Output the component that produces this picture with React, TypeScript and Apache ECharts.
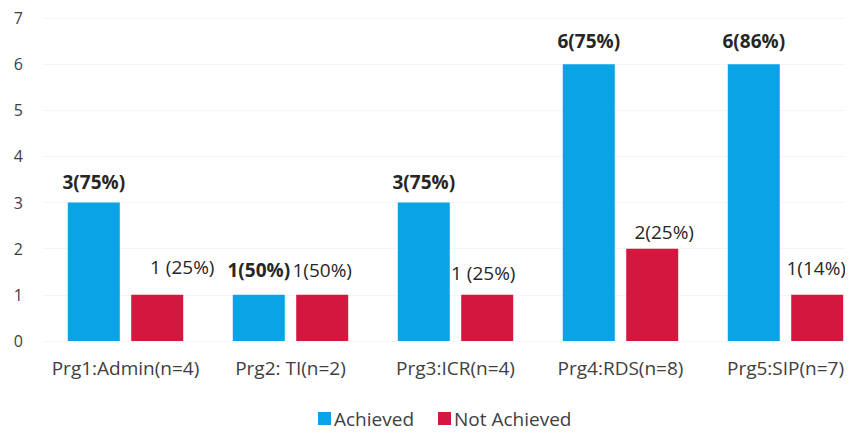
import React, { useEffect, useRef } from "react";
import * as echarts from "echarts";

const categories = ["Prg1:Admin(n=4)", "Prg2: TI(n=2)", "Prg3:ICR(n=4)", "Prg4:RDS(n=8)", "Prg5:SIP(n=7)"];
const achieved = [3, 1, 3, 6, 6];
const notAchieved = [1, 1, 1, 2, 1];
const achievedLabels = ["3(75%)", "1(50%)", "3(75%)", "6(75%)", "6(86%)"];
const notAchievedLabels = ["1 (25%)", "1(50%)", "1 (25%)", "2(25%)", "1(14%)"];
const yTicks = [0, 1, 2, 3, 4, 5, 6, 7];

const achievedLabelOffsets = [[0, 0], [0, -4], [0, 0], [0, -3], [0, -3]];
const notAchievedLabelOffsets = [[25, -7], [0, -4], [-4, -1], [12, 4], [-1, -6]];

const FONT = "'Open Sans', 'Noto Sans', sans-serif";

export default function App() {
  const ref = useRef<HTMLDivElement>(null);
  useEffect(() => {
    if (!ref.current) return;
    const chart = echarts.init(ref.current, undefined, { renderer: "svg" });
    chart.setOption({
      animation: false,
      textStyle: { fontFamily: FONT },
      legend: {
        bottom: 0,
        left: 305,
        itemWidth: 13,
        itemHeight: 13,
        itemGap: 24,
        icon: "rect",
        textStyle: { fontSize: 19, color: "#404040", fontFamily: FONT, padding: [0, 0, 0, -2] },
        data: ["Achieved", "Not Achieved"],
      },
      grid: { left: 35, top: 10, width: 825, bottom: 92 },
      xAxis: {
        type: "category",
        data: categories,
        axisLine: { show: false },
        axisTick: { show: false },
        axisLabel: { interval: 0, hideOverlap: false, fontSize: 19, color: "#404040", margin: 17, fontFamily: FONT },
      },
      yAxis: {
        type: "value",
        min: yTicks[0],
        max: yTicks[yTicks.length - 1],
        interval: 1,
        axisLine: { show: false },
        axisTick: { show: false },
        splitLine: { show: true, lineStyle: { color: "#f5f5f5" } },
        axisLabel: { fontSize: 16, color: "#404040", margin: 20, fontFamily: FONT },
      },
      series: [
        {
          name: "Achieved",
          type: "bar",
          barWidth: 52,
          barGap: "22%",
          itemStyle: { color: "#0aa3e6" },
          data: achieved.map((v, i) => ({
            value: v,
            label: { offset: achievedLabelOffsets[i] },
          })),
          label: {
            show: true,
            position: "top",
            distance: 11,
            fontSize: 19,
            fontWeight: "bold",
            color: "#262626",
            fontFamily: FONT,
            formatter: (p: any) => achievedLabels[p.dataIndex],
          },
        },
        {
          name: "Not Achieved",
          type: "bar",
          barWidth: 52,
          itemStyle: { color: "#d4173f" },
          data: notAchieved.map((v, i) => ({
            value: v,
            label: { offset: notAchievedLabelOffsets[i] },
          })),
          label: {
            show: true,
            position: "top",
            distance: 11,
            fontSize: 19,
            color: "#262626",
            fontFamily: FONT,
            formatter: (p: any) => notAchievedLabels[p.dataIndex],
          },
        },
      ],
    });
    return () => chart.dispose();
  }, []);
  return (
    <div style={{ width: 845, height: 425, overflow: "hidden" }}>
      <div ref={ref} style={{ width: 870, height: 425 }} />
    </div>
  );
}
